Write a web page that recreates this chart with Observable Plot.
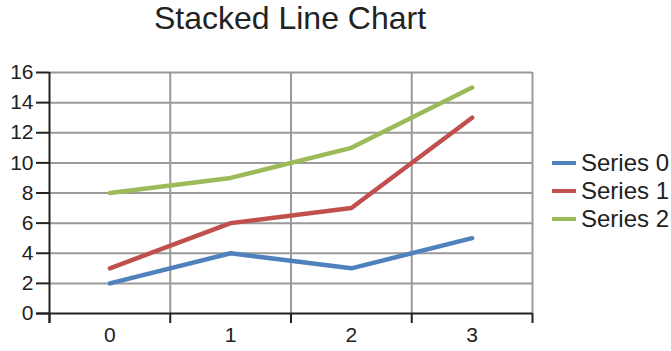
<!DOCTYPE html>
<html>
<head>
<meta charset="utf-8">
<script src="https://cdn.jsdelivr.net/npm/d3@7"></script>
<script src="https://cdn.jsdelivr.net/npm/@observablehq/plot@0.6"></script>
<style>
  html, body { margin: 0; padding: 0; background: #fff; }
  #wrap { position: relative; width: 671px; height: 351px; font-family: "Liberation Sans", Arial, sans-serif; }
  #title { position: absolute; left: 0; width: 580px; top: 0px; text-align: center; font-size: 32px; color: #222; }
  #legend { position: absolute; left: 552px; top: 149px; font-size: 24px; color: #222; }
  .item { display: flex; align-items: center; height: 28px; }
  .sw { width: 24px; height: 4px; margin-right: 5px; }
  #chart { position: absolute; left: 0; top: 0; }
</style>
</head>
<body>
<div id="wrap">
  <div id="chart"></div>
  <div id="title">Stacked Line Chart</div>
  <div id="legend"></div>
</div>
<script>
const categories = [0, 1, 2, 3];
const seriesNames = ["Series 0", "Series 1", "Series 2"];
const series0 = [2, 4, 3, 5];
const series1 = [1, 2, 4, 8];
const series2 = [5, 3, 4, 2];
const colors = ["#4f81bd", "#c0504d", "#9bbb59"];
const yTicks = [0, 2, 4, 6, 8, 10, 12, 14, 16];
const xTickLabels = ["0", "1", "2", "3"];

const values = [series0, series1, series2];
const data = [];
seriesNames.forEach((s, i) => categories.forEach((c, j) => data.push({x: c, value: values[i][j], series: s})));
const bounds = [-0.5, ...categories.map(c => c + 0.5)];

const chart = Plot.plot({
  width: 671,
  height: 351,
  marginLeft: 49,
  marginRight: 139,
  marginTop: 72,
  marginBottom: 38,
  style: {fontFamily: "Liberation Sans, Arial, sans-serif", color: "#222", background: "transparent"},
  x: {type: "linear", domain: [-0.5, 3.5]},
  y: {domain: [0, 16]},
  color: {domain: seriesNames, range: colors},
  marks: [
    Plot.ruleY(yTicks.slice(1), {stroke: "#9a9a9a", strokeWidth: 2}),
    Plot.ruleX(bounds.slice(1), {stroke: "#9a9a9a", strokeWidth: 2}),
    Plot.axisY({ticks: yTicks, tickSize: 13, tickPadding: 3, fontSize: 21, stroke: "#222", strokeWidth: 2, label: null}),
    Plot.axisX({ticks: bounds, tickSize: 10, tickFormat: () => "", stroke: "#222", strokeWidth: 2, label: null}),
    Plot.axisX({ticks: categories, tickSize: 0, tickPadding: 14, tickFormat: (d, i) => xTickLabels[i], fontSize: 21, label: null}),
    Plot.ruleY([0], {stroke: "#222", strokeWidth: 2, insetLeft: -13}),
    Plot.ruleX([-0.5], {stroke: "#222", strokeWidth: 2, insetBottom: -10}),
    Plot.lineY(data, Plot.stackY2({x: "x", y: "value", z: "series", stroke: "series", strokeWidth: 4.5, strokeLinejoin: "round"}))
  ]
});
document.getElementById("chart").appendChild(chart);

const legend = document.getElementById("legend");
seriesNames.forEach((s, i) => {
  const row = document.createElement("div");
  row.className = "item";
  const sw = document.createElement("span");
  sw.className = "sw";
  sw.style.background = colors[i];
  const t = document.createElement("span");
  t.textContent = s;
  row.appendChild(sw);
  row.appendChild(t);
  legend.appendChild(row);
});
</script>
</body>
</html>
